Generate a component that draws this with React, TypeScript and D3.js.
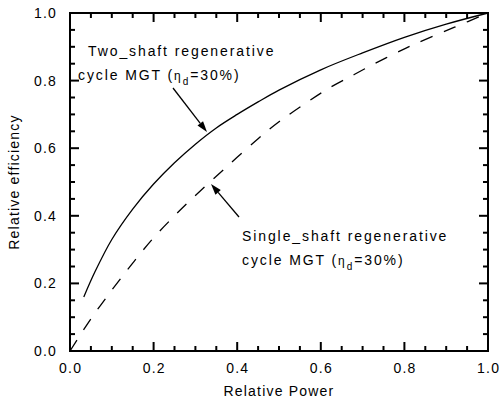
import React from "react";
import * as d3 from "d3";

const twoShaftPower = [0.033, 0.06, 0.1, 0.15, 0.2, 0.25, 0.3, 0.35, 0.4, 0.45, 0.5, 0.6, 0.7, 0.8, 0.9, 1.0];
const twoShaftEff = [0.16, 0.235, 0.33, 0.42, 0.494, 0.557, 0.612, 0.66, 0.70, 0.737, 0.772, 0.832, 0.882, 0.928, 0.967, 1.0];
const singleShaftPower = [0.0, 0.05, 0.1, 0.15, 0.2, 0.25, 0.3, 0.375, 0.45, 0.5, 0.56, 0.62, 0.68, 0.73, 0.79, 0.83, 0.92, 1.0];
const singleShaftEff = [0.0, 0.095, 0.18, 0.26, 0.335, 0.4, 0.46, 0.545, 0.628, 0.678, 0.73, 0.778, 0.818, 0.851, 0.888, 0.911, 0.958, 1.0];
const majorTicks = [0, 0.2, 0.4, 0.6, 0.8, 1.0];
const minorTicks = d3.range(0, 1.0001, 0.05);
const tickLabels = ["0.0", "0.2", "0.4", "0.6", "0.8", "1.0"];

const W = 502, H = 403;
const L = 70, R = 488, T = 13, B = 351;
const FONT = "'Liberation Sans', Arial, sans-serif";

export default function App() {
  const x = d3.scaleLinear().domain([0, 1]).range([L, R]);
  const y = d3.scaleLinear().domain([0, 1]).range([B, T]);
  const line = d3.line<[number, number]>().x(d => x(d[0])).y(d => y(d[1])).curve(d3.curveCatmullRom.alpha(0.5));
  const solid = twoShaftPower.map((p, i) => [p, twoShaftEff[i]] as [number, number]);
  const dashed = singleShaftPower.map((p, i) => [p, singleShaftEff[i]] as [number, number]);
  const isMajor = (v: number) => majorTicks.some(m => Math.abs(m - v) < 1e-6);

  const arrow = (x1: number, y1: number, x2: number, y2: number, key: string) => {
    const ang = Math.atan2(y2 - y1, x2 - x1);
    const len = 11, half = 3.5;
    const bx = x2 - len * Math.cos(ang), by = y2 - len * Math.sin(ang);
    const px = -Math.sin(ang) * half, py = Math.cos(ang) * half;
    return (
      <g key={key}>
        <line x1={x1} y1={y1} x2={bx} y2={by} stroke="#000" strokeWidth={1.3} />
        <path d={`M${x2},${y2}L${bx + px},${by + py}L${bx - px},${by - py}Z`} fill="#000" />
      </g>
    );
  };

  const textStyle = { fontFamily: FONT, fontSize: 14, letterSpacing: 1.2 } as React.CSSProperties;
  const annStyle = { fontFamily: FONT, fontSize: 14, letterSpacing: 1.9 } as React.CSSProperties;

  return (
    <svg width={W} height={H} style={{ position: "absolute", left: 0, top: 0, background: "#fff" }}>
      <rect x={0} y={0} width={W} height={H} fill="#fff" />
      {/* curves */}
      <path d={line(solid) || ""} fill="none" stroke="#000" strokeWidth={1.3} />
      <path d={line(dashed) || ""} fill="none" stroke="#000" strokeWidth={1.3} strokeDasharray="13,12" />
      {/* frame */}
      <rect x={L} y={T} width={R - L} height={B - T} fill="none" stroke="#000" strokeWidth={2} />
      {/* ticks */}
      {minorTicks.map((v, i) => {
        const len = isMajor(v) ? 9 : 5;
        return (
          <g key={"t" + i} stroke="#000" strokeWidth={2}>
            <line x1={x(v)} x2={x(v)} y1={B} y2={B - len} />
            <line x1={x(v)} x2={x(v)} y1={T} y2={T + len} />
            <line x1={L} x2={L + len} y1={y(v)} y2={y(v)} />
            <line x1={R} x2={R - len} y1={y(v)} y2={y(v)} />
          </g>
        );
      })}
      {/* tick labels */}
      {majorTicks.map((v, i) => (
        <text key={"xl" + i} x={x(v) + 0.6} y={373} textAnchor="middle" style={textStyle}>{tickLabels[i]}</text>
      ))}
      {majorTicks.map((v, i) => (
        <text key={"yl" + i} x={57} y={y(v) + 5} textAnchor="end" style={textStyle}>{tickLabels[i]}</text>
      ))}
      {/* axis titles */}
      <text x={(L + R) / 2} y={396} textAnchor="middle" style={textStyle}>Relative Power</text>
      <text transform={`translate(19,182) rotate(-90)`} textAnchor="middle" style={textStyle}>Relative efficiency</text>
      {/* annotations */}
      <text x={88} y={56} style={annStyle}>Two_shaft regenerative</text>
      <text x={78} y={80} style={annStyle}>
        cycle MGT (<tspan fontSize={12}>η</tspan><tspan fontSize={10} dy={5}>d</tspan><tspan dy={-5}>=30%)</tspan>
      </text>
      {arrow(173, 88, 207, 132, "a1")}
      <text x={242} y={241} style={annStyle}>Single_shaft regenerative</text>
      <text x={242} y={265} style={annStyle}>
        cycle MGT (<tspan fontSize={12}>η</tspan><tspan fontSize={10} dy={5}>d</tspan><tspan dy={-5}>=30%)</tspan>
      </text>
      {arrow(239, 217, 211, 184, "a2")}
    </svg>
  );
}
